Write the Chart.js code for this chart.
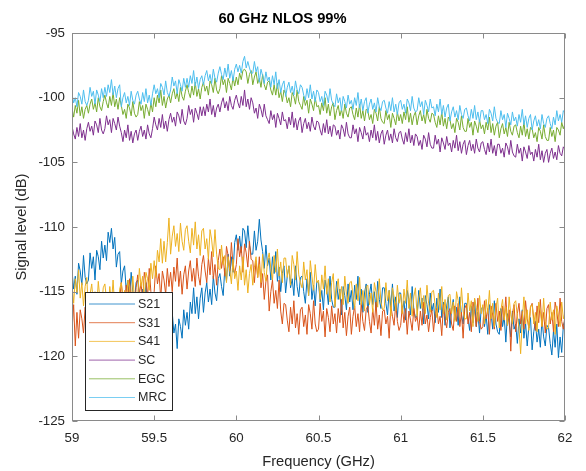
<!DOCTYPE html>
<html>
<head>
<meta charset="utf-8">
<script src="https://cdn.jsdelivr.net/npm/chart.js@4.4.1/dist/chart.umd.min.js"></script>
<style>
html,body{margin:0;padding:0;background:#fff;}
#wrap{position:relative;width:586px;height:471px;}
</style>
</head>
<body>
<div id="wrap"><canvas id="c" width="586" height="471"></canvas></div>
<script>
const chartTitle = "60 GHz NLOS 99%";
const xTitle = "Frequency (GHz)";
const yTitle = "Signal level (dB)";
const seriesNames = ["S21", "S31", "S41", "SC", "EGC", "MRC"];
const xTicks = [59, 59.5, 60, 60.5, 61, 61.5, 62];
const yTicks = [-125, -120, -115, -110, -105, -100, -95];

const freqs = [
59.00,59.01,59.02,59.03,59.04,59.05,59.06,59.07,59.08,59.09,
59.10,59.11,59.12,59.13,59.14,59.15,59.16,59.17,59.18,59.19,
59.20,59.21,59.22,59.23,59.24,59.25,59.26,59.27,59.28,59.29,
59.30,59.31,59.32,59.33,59.34,59.35,59.36,59.37,59.38,59.39,
59.40,59.41,59.42,59.43,59.44,59.45,59.46,59.47,59.48,59.49,
59.50,59.51,59.52,59.53,59.54,59.55,59.56,59.57,59.58,59.59,
59.60,59.61,59.62,59.63,59.64,59.65,59.66,59.67,59.68,59.69,
59.70,59.71,59.72,59.73,59.74,59.75,59.76,59.77,59.78,59.79,
59.80,59.81,59.82,59.83,59.84,59.85,59.86,59.87,59.88,59.89,
59.90,59.91,59.92,59.93,59.94,59.95,59.96,59.97,59.98,59.99,
60.00,60.01,60.02,60.03,60.04,60.05,60.06,60.07,60.08,60.09,
60.10,60.11,60.12,60.13,60.14,60.15,60.16,60.17,60.18,60.19,
60.20,60.21,60.22,60.23,60.24,60.25,60.26,60.27,60.28,60.29,
60.30,60.31,60.32,60.33,60.34,60.35,60.36,60.37,60.38,60.39,
60.40,60.41,60.42,60.43,60.44,60.45,60.46,60.47,60.48,60.49,
60.50,60.51,60.52,60.53,60.54,60.55,60.56,60.57,60.58,60.59,
60.60,60.61,60.62,60.63,60.64,60.65,60.66,60.67,60.68,60.69,
60.70,60.71,60.72,60.73,60.74,60.75,60.76,60.77,60.78,60.79,
60.80,60.81,60.82,60.83,60.84,60.85,60.86,60.87,60.88,60.89,
60.90,60.91,60.92,60.93,60.94,60.95,60.96,60.97,60.98,60.99,
61.00,61.01,61.02,61.03,61.04,61.05,61.06,61.07,61.08,61.09,
61.10,61.11,61.12,61.13,61.14,61.15,61.16,61.17,61.18,61.19,
61.20,61.21,61.22,61.23,61.24,61.25,61.26,61.27,61.28,61.29,
61.30,61.31,61.32,61.33,61.34,61.35,61.36,61.37,61.38,61.39,
61.40,61.41,61.42,61.43,61.44,61.45,61.46,61.47,61.48,61.49,
61.50,61.51,61.52,61.53,61.54,61.55,61.56,61.57,61.58,61.59,
61.60,61.61,61.62,61.63,61.64,61.65,61.66,61.67,61.68,61.69,
61.70,61.71,61.72,61.73,61.74,61.75,61.76,61.77,61.78,61.79,
61.80,61.81,61.82,61.83,61.84,61.85,61.86,61.87,61.88,61.89,
61.90,61.91,61.92,61.93,61.94,61.95,61.96,61.97,61.98,61.99,
62.00];

const s21 = [
-113.4,-114.8,-113.8,-115.2,-112.8,-113.4,-114.5,-112.2,-113.9,-114.4,
-114.1,-112.0,-113.2,-112.3,-114.1,-111.8,-112.3,-113.3,-111.1,-112.4,
-111.4,-112.6,-110.4,-111.2,-110.1,-111.7,-110.8,-113.1,-112.1,-111.9,
-114.4,-113.4,-113.0,-114.9,-114.1,-115.6,-113.5,-115.0,-115.8,-114.3,
-114.1,-115.4,-116.4,-114.8,-116.1,-114.3,-116.6,-115.5,-117.1,-115.3,
-115.4,-117.0,-116.3,-117.9,-115.8,-116.5,-117.8,-115.6,-117.6,-118.3,
-118.4,-116.6,-118.2,-117.5,-119.4,-117.1,-117.7,-118.6,-116.4,-117.6,
-116.6,-117.9,-115.8,-116.7,-114.7,-116.7,-115.4,-117.1,-115.5,-114.7,
-116.6,-115.1,-114.3,-115.8,-114.8,-116.0,-113.8,-115.1,-115.7,-114.0,
-113.6,-114.6,-115.3,-113.2,-114.2,-112.1,-113.8,-112.3,-113.5,-111.2,
-110.6,-111.8,-110.7,-112.0,-110.1,-110.3,-111.6,-109.9,-111.4,-112.1,
-112.1,-110.3,-111.8,-111.1,-109.4,-111.0,-111.9,-113.2,-111.4,-113.0,
-112.4,-114.1,-112.3,-113.6,-111.9,-114.2,-113.1,-115.0,-113.6,-113.0,
-115.1,-113.8,-113.0,-114.7,-114.0,-115.3,-113.0,-114.6,-115.4,-113.9,
-113.8,-115.0,-115.9,-114.0,-115.3,-113.5,-115.6,-114.5,-116.1,-114.2,
-114.3,-115.8,-114.9,-116.4,-114.1,-114.8,-116.0,-113.8,-115.6,-116.2,
-116.2,-114.2,-115.6,-114.8,-116.8,-114.6,-115.3,-116.4,-114.4,-115.8,
-114.9,-116.4,-114.5,-115.6,-113.8,-116.0,-114.8,-116.6,-115.1,-114.4,
-116.6,-115.2,-114.4,-116.0,-115.0,-116.4,-114.2,-115.6,-116.3,-114.7,
-114.7,-115.9,-116.8,-114.9,-116.2,-114.4,-116.5,-115.4,-117.0,-115.1,
-115.1,-116.6,-115.7,-117.2,-114.9,-115.6,-116.8,-114.6,-116.4,-117.0,
-116.9,-114.9,-116.3,-115.5,-117.5,-115.3,-116.0,-117.1,-115.1,-116.5,
-115.9,-117.4,-115.5,-116.6,-114.8,-117.0,-115.8,-117.6,-116.1,-115.4,
-117.8,-116.4,-115.6,-117.2,-116.2,-117.6,-115.4,-116.8,-117.5,-115.9,
-115.9,-117.1,-118.0,-116.1,-117.4,-115.6,-117.7,-116.6,-118.2,-116.3,
-116.2,-117.7,-116.8,-118.3,-116.0,-116.7,-117.9,-115.7,-117.5,-118.1,
-118.3,-116.3,-117.7,-116.9,-118.9,-116.7,-117.4,-118.5,-116.5,-117.9,
-117.5,-119.0,-117.1,-118.2,-116.4,-118.6,-117.4,-119.2,-117.7,-117.0,
-119.5,-118.1,-117.3,-118.9,-117.9,-119.3,-117.1,-118.5,-119.2,-117.6,
-117.8,-119.0,-119.9,-118.0,-119.3,-117.5,-120.1,-118.5,-119.7,-117.6,
-117.2];

const s31 = [
-118.0,-116.0,-119.2,-116.6,-118.6,-116.4,-117.1,-118.2,-116.2,-117.6,
-116.5,-118.0,-116.1,-117.2,-115.4,-117.6,-116.4,-118.2,-116.7,-116.0,
-117.5,-116.1,-115.3,-116.9,-115.9,-117.3,-115.1,-116.5,-117.2,-115.6,
-114.3,-115.5,-116.4,-114.5,-115.8,-114.0,-116.1,-115.0,-116.6,-114.7,
-113.7,-115.2,-114.3,-115.8,-113.5,-114.2,-115.4,-113.2,-115.0,-115.6,
-115.0,-113.0,-114.4,-113.6,-115.6,-113.4,-114.1,-115.2,-113.2,-114.6,
-113.5,-115.0,-113.1,-114.2,-112.4,-114.6,-113.4,-115.2,-113.7,-113.0,
-114.8,-113.4,-112.6,-114.2,-113.2,-114.6,-112.4,-113.8,-114.5,-112.9,
-112.2,-113.4,-114.3,-112.4,-113.7,-111.9,-114.0,-112.9,-114.5,-112.6,
-111.7,-113.2,-112.3,-113.8,-111.5,-112.2,-113.4,-111.2,-113.0,-113.6,
-112.9,-110.9,-112.3,-111.5,-113.5,-111.3,-112.0,-113.1,-111.1,-112.5,
-112.6,-114.3,-112.6,-113.9,-112.3,-114.7,-113.6,-115.6,-114.2,-113.7,
-116.5,-115.0,-114.1,-115.9,-114.9,-116.3,-114.1,-116.5,-117.5,-115.9,
-116.0,-117.2,-118.1,-116.2,-117.5,-115.7,-117.8,-116.7,-118.3,-116.4,
-116.2,-117.7,-116.8,-118.3,-116.0,-116.7,-117.9,-115.7,-117.5,-118.1,
-117.9,-115.9,-117.3,-116.5,-118.5,-116.3,-117.0,-118.1,-116.1,-117.5,
-116.7,-118.2,-116.3,-117.4,-115.6,-117.8,-116.6,-118.4,-116.9,-116.2,
-118.3,-116.9,-116.1,-117.7,-116.7,-118.1,-115.9,-117.3,-118.0,-116.4,
-116.1,-117.3,-118.2,-116.3,-117.6,-115.8,-117.9,-116.8,-118.4,-116.5,
-116.4,-117.5,-116.9,-118.6,-116.1,-116.9,-117.6,-115.9,-117.3,-118.0,
-117.6,-116.1,-117.4,-116.3,-118.3,-116.5,-117.2,-118.0,-116.3,-117.3,
-116.9,-118.0,-116.5,-117.6,-115.8,-117.5,-116.8,-118.1,-117.0,-116.4,
-118.1,-116.7,-116.3,-117.5,-116.9,-118.4,-116.0,-117.1,-117.8,-116.6,
-116.3,-117.5,-118.0,-116.1,-117.3,-115.9,-117.7,-116.6,-118.6,-116.3,
-116.0,-117.5,-116.6,-118.1,-115.8,-116.5,-117.7,-115.5,-117.3,-117.9,
-117.7,-115.7,-117.1,-116.3,-118.3,-116.1,-116.8,-117.9,-115.9,-117.3,
-116.5,-118.0,-116.1,-117.2,-115.4,-117.6,-116.4,-119.6,-116.7,-116.0,
-118.1,-116.7,-115.9,-117.5,-116.5,-117.9,-115.7,-117.1,-117.8,-116.2,
-115.9,-117.1,-118.0,-116.1,-117.4,-115.6,-117.7,-116.6,-118.2,-116.3,
-116.0,-117.5,-116.6,-118.1,-115.8,-116.5,-117.7,-115.5,-117.3,-117.9,
-116.8];

const s41 = [
-114.4,-115.9,-114.0,-115.1,-113.3,-115.5,-114.3,-116.1,-114.6,-113.9,
-116.6,-115.2,-114.4,-116.0,-115.0,-116.4,-114.2,-115.6,-116.3,-114.7,
-114.4,-115.6,-116.5,-114.6,-115.9,-114.1,-116.2,-115.1,-116.7,-114.8,
-114.3,-115.8,-114.9,-116.4,-114.1,-114.8,-116.0,-113.8,-115.6,-116.2,
-115.3,-113.2,-114.6,-113.8,-115.7,-113.5,-114.0,-114.9,-112.8,-114.0,
-112.6,-113.9,-111.8,-112.7,-110.9,-112.8,-111.1,-112.7,-111.2,-109.3,
-112.1,-110.7,-109.9,-111.5,-110.5,-111.9,-109.7,-111.1,-111.8,-110.2,
-109.9,-111.1,-112.0,-110.1,-111.4,-109.6,-111.7,-110.6,-112.2,-110.3,
-110.1,-111.7,-110.9,-112.5,-110.2,-111.0,-112.3,-110.2,-112.1,-113.2,
-113.3,-111.4,-112.9,-112.2,-114.3,-112.3,-113.3,-114.4,-112.5,-114.0,
-113.4,-114.9,-113.0,-114.1,-112.3,-114.5,-113.3,-115.1,-113.6,-112.9,
-114.5,-113.1,-112.3,-113.9,-112.9,-114.3,-112.1,-113.5,-114.2,-112.6,
-112.0,-113.2,-114.1,-112.2,-113.5,-111.7,-113.8,-112.7,-114.3,-112.4,
-112.4,-113.9,-113.0,-114.5,-112.2,-112.9,-114.1,-111.9,-113.7,-114.3,
-114.7,-112.7,-114.1,-113.3,-115.3,-112.6,-113.8,-114.9,-112.9,-114.3,
-114.1,-115.6,-113.7,-114.8,-113.0,-115.2,-114.0,-115.8,-114.3,-113.6,
-116.2,-114.8,-114.0,-115.6,-114.6,-116.0,-113.8,-115.2,-115.9,-114.3,
-114.2,-115.4,-116.3,-114.4,-115.7,-113.9,-116.0,-114.9,-116.5,-114.6,
-114.5,-116.0,-115.1,-116.6,-114.3,-115.0,-116.2,-114.0,-115.8,-116.4,
-116.3,-114.3,-115.7,-114.9,-116.9,-114.7,-115.4,-116.5,-114.5,-115.9,
-115.2,-116.7,-114.8,-115.9,-114.1,-116.3,-115.1,-116.9,-115.4,-114.7,
-116.9,-115.5,-114.7,-116.3,-115.3,-116.7,-114.5,-115.9,-116.6,-115.0,
-114.9,-116.1,-117.0,-115.1,-116.4,-114.6,-116.7,-115.6,-117.2,-115.3,
-115.2,-116.7,-115.8,-117.3,-115.0,-115.7,-116.9,-114.7,-116.5,-117.1,
-117.1,-115.1,-116.5,-115.7,-117.7,-115.5,-116.2,-117.3,-115.3,-116.7,
-116.0,-117.5,-115.6,-116.7,-114.9,-117.1,-115.9,-117.7,-116.2,-115.5,
-117.8,-116.4,-115.6,-117.2,-116.2,-117.6,-115.4,-116.8,-117.5,-115.9,
-115.7,-116.9,-117.8,-119.8,-117.2,-115.4,-117.5,-116.4,-118.0,-116.1,
-116.0,-117.5,-116.6,-118.1,-115.8,-116.5,-117.7,-115.5,-117.3,-117.9,
-117.8,-115.8,-117.2,-116.4,-118.3,-116.1,-116.8,-117.7,-115.8,-117.1,
-116.6];

const sc = [
-102.2,-102.8,-103.2,-102.3,-103.0,-102.0,-103.1,-102.5,-103.3,-102.4,
-101.9,-102.6,-102.2,-102.9,-101.8,-102.1,-102.7,-101.6,-102.5,-102.8,
-102.4,-101.4,-102.1,-101.7,-102.7,-101.6,-102.0,-102.5,-101.5,-102.2,
-102.7,-103.4,-102.5,-103.1,-102.1,-103.3,-102.6,-103.5,-102.8,-102.5,
-103.3,-102.6,-102.2,-103.0,-102.5,-103.2,-102.1,-102.8,-103.1,-102.4,
-101.5,-102.1,-102.5,-101.6,-102.3,-101.3,-102.4,-101.8,-102.6,-101.7,
-101.2,-101.9,-101.5,-102.2,-101.1,-101.4,-102.0,-100.9,-101.8,-102.1,
-101.6,-100.6,-101.3,-100.9,-101.9,-100.8,-101.2,-101.7,-100.7,-101.4,
-100.7,-101.4,-100.5,-101.1,-100.1,-101.3,-100.6,-101.5,-100.8,-100.5,
-101.1,-100.4,-100.0,-100.8,-100.3,-101.0,-99.9,-100.6,-100.9,-100.2,
-99.8,-100.4,-100.8,-99.9,-100.6,-99.4,-100.7,-100.1,-100.9,-100.0,
-100.4,-101.2,-100.8,-101.6,-100.5,-100.9,-101.5,-100.5,-101.4,-101.7,
-102.0,-101.0,-101.7,-101.3,-102.3,-101.2,-101.6,-102.1,-101.1,-101.8,
-101.7,-102.4,-101.5,-102.1,-101.1,-102.3,-101.6,-102.5,-101.8,-101.5,
-102.7,-102.0,-101.6,-102.4,-101.9,-102.6,-101.5,-102.2,-102.5,-101.8,
-101.9,-102.5,-102.9,-102.0,-102.7,-101.7,-102.8,-102.2,-103.0,-102.1,
-102.2,-102.9,-102.5,-103.2,-102.1,-102.4,-103.0,-101.9,-102.8,-103.1,
-103.1,-102.1,-102.8,-102.4,-103.4,-102.3,-102.7,-103.2,-102.2,-102.9,
-102.7,-103.4,-102.5,-103.1,-102.1,-103.3,-102.6,-103.5,-102.8,-102.5,
-103.6,-102.9,-102.5,-103.3,-102.8,-103.5,-102.4,-103.1,-103.4,-102.7,
-102.6,-103.2,-103.6,-102.7,-103.4,-102.4,-103.5,-102.9,-103.7,-102.8,
-103.0,-103.7,-103.3,-104.0,-102.9,-103.2,-103.8,-102.7,-103.6,-103.9,
-103.9,-102.9,-103.6,-103.2,-104.2,-103.1,-103.5,-104.0,-103.0,-103.7,
-103.5,-104.2,-103.3,-103.9,-102.9,-104.1,-103.4,-104.3,-103.6,-103.3,
-104.4,-103.7,-103.3,-104.1,-103.6,-104.3,-103.2,-103.9,-104.2,-103.5,
-103.4,-104.0,-104.4,-103.5,-104.2,-103.2,-104.3,-103.7,-104.5,-103.6,
-103.6,-104.3,-103.9,-104.6,-103.5,-103.8,-104.4,-103.3,-104.2,-104.5,
-104.6,-103.6,-104.3,-103.9,-104.9,-103.8,-104.2,-104.7,-103.7,-104.4,
-104.2,-104.9,-104.0,-104.6,-103.6,-104.8,-104.1,-105.0,-104.3,-104.0,
-105.0,-104.3,-103.9,-104.7,-104.2,-104.8,-103.7,-104.3,-104.5,-103.8,
-104.0];

const egc = [
-100.8,-101.5,-100.6,-101.2,-100.2,-101.4,-100.7,-101.6,-100.9,-100.6,
-101.2,-100.5,-100.1,-100.9,-100.4,-101.1,-100.0,-100.7,-101.0,-100.3,
-99.8,-100.4,-100.8,-99.9,-100.6,-99.6,-100.7,-100.1,-100.9,-100.0,
-100.6,-101.3,-100.9,-101.6,-100.5,-100.8,-101.4,-100.3,-101.2,-101.5,
-101.3,-100.3,-101.0,-100.6,-101.6,-100.5,-100.9,-101.4,-100.4,-101.1,
-100.0,-100.7,-99.8,-100.4,-99.4,-100.6,-99.9,-100.8,-100.1,-99.8,
-100.4,-99.7,-99.3,-100.1,-99.6,-100.3,-99.2,-99.9,-100.2,-99.5,
-99.0,-99.6,-100.0,-99.1,-99.8,-98.8,-99.9,-99.3,-100.1,-99.2,
-98.8,-99.5,-99.1,-99.8,-98.7,-99.0,-99.6,-98.5,-99.4,-99.7,
-99.3,-98.3,-99.0,-98.6,-99.6,-98.5,-98.9,-99.4,-98.4,-99.1,
-98.4,-99.0,-98.1,-98.6,-97.9,-97.8,-98.0,-98.9,-98.2,-97.9,
-99.0,-98.4,-98.0,-98.9,-98.5,-99.2,-98.2,-99.0,-99.4,-98.8,
-98.7,-99.4,-99.8,-99.0,-99.8,-98.9,-100.0,-99.5,-100.3,-99.4,
-99.7,-100.4,-100.0,-100.7,-99.6,-99.9,-100.5,-99.4,-100.3,-100.6,
-100.9,-99.9,-100.6,-100.2,-101.2,-100.1,-100.5,-101.0,-100.0,-100.7,
-100.6,-101.3,-100.4,-101.0,-100.0,-101.2,-100.5,-101.4,-100.7,-100.4,
-101.7,-101.0,-100.6,-101.4,-100.9,-101.6,-100.5,-101.2,-101.5,-100.8,
-100.7,-101.3,-101.7,-100.8,-101.5,-100.5,-101.6,-101.0,-101.8,-100.9,
-101.0,-101.7,-101.3,-102.0,-100.9,-101.2,-101.8,-100.7,-101.6,-101.9,
-102.0,-101.0,-101.7,-101.3,-102.3,-101.2,-101.6,-102.1,-101.1,-101.8,
-101.3,-102.0,-101.1,-101.7,-100.7,-101.9,-101.2,-102.1,-101.4,-101.1,
-102.1,-101.4,-101.0,-101.8,-101.3,-102.0,-100.9,-101.6,-101.9,-101.2,
-101.3,-101.9,-102.3,-101.4,-102.1,-101.1,-102.2,-101.6,-102.4,-101.5,
-101.7,-102.4,-102.0,-102.7,-101.6,-101.9,-102.5,-101.4,-102.3,-102.6,
-102.6,-101.6,-102.3,-101.9,-102.9,-101.8,-102.2,-102.7,-101.7,-102.4,
-102.1,-102.8,-101.9,-102.5,-101.5,-102.7,-102.0,-102.9,-102.2,-101.9,
-103.1,-102.4,-102.0,-102.8,-102.3,-103.0,-101.9,-102.6,-102.9,-102.2,
-102.1,-102.7,-103.1,-102.2,-102.9,-101.9,-103.0,-102.4,-103.2,-102.3,
-102.4,-103.1,-102.7,-103.4,-102.3,-102.6,-103.2,-102.1,-103.0,-103.3,
-103.3,-102.3,-103.0,-102.5,-103.4,-102.3,-102.5,-102.9,-101.9,-102.4,
-102.0];

const mrc = [
-99.7,-100.4,-100.0,-100.7,-99.6,-99.9,-100.5,-99.4,-100.3,-100.6,
-100.2,-99.2,-99.9,-99.5,-100.5,-99.4,-99.8,-100.3,-99.3,-100.0,
-99.2,-99.9,-99.0,-99.6,-98.6,-99.8,-99.1,-100.0,-99.3,-99.0,
-100.7,-100.0,-99.6,-100.4,-99.9,-100.6,-99.5,-100.2,-100.5,-99.8,
-99.5,-100.1,-100.5,-99.6,-100.3,-99.3,-100.4,-99.8,-100.6,-99.7,
-99.0,-99.7,-99.3,-100.0,-98.9,-99.2,-99.8,-98.7,-99.6,-99.9,
-99.4,-98.4,-99.1,-98.7,-99.7,-98.6,-99.0,-99.5,-98.5,-99.2,
-98.5,-99.2,-98.3,-98.9,-97.9,-99.1,-98.4,-99.3,-98.6,-98.3,
-99.0,-98.3,-97.9,-98.7,-98.2,-98.9,-97.8,-98.5,-98.8,-98.1,
-97.6,-98.2,-98.6,-97.7,-98.4,-97.4,-98.5,-97.9,-98.7,-97.8,
-97.4,-98.0,-97.5,-98.1,-97.2,-96.8,-97.7,-97.2,-97.7,-98.1,
-98.1,-97.2,-98.0,-97.6,-98.8,-97.8,-98.3,-98.9,-98.0,-98.7,
-98.4,-99.2,-98.3,-99.0,-98.0,-99.3,-98.6,-99.6,-99.0,-98.7,
-99.9,-99.2,-98.8,-99.6,-99.1,-99.8,-98.7,-99.4,-99.7,-99.0,
-99.2,-99.8,-100.2,-99.3,-100.0,-99.0,-100.1,-99.5,-100.3,-99.4,
-99.6,-100.3,-99.9,-100.6,-99.5,-99.8,-100.4,-99.3,-100.2,-100.5,
-100.7,-99.7,-100.4,-100.0,-101.0,-99.9,-100.3,-100.8,-99.8,-100.5,
-100.2,-100.9,-100.0,-100.6,-99.6,-100.8,-100.1,-101.0,-100.3,-100.0,
-101.2,-100.5,-100.1,-100.9,-100.4,-101.1,-100.0,-100.7,-101.0,-100.3,
-100.2,-100.8,-101.2,-100.3,-101.0,-100.0,-101.1,-100.5,-101.3,-100.4,
-100.2,-100.9,-100.5,-101.2,-100.1,-100.4,-101.0,-99.9,-100.8,-101.1,
-101.0,-100.0,-100.7,-100.3,-101.3,-100.2,-100.6,-101.1,-100.1,-100.8,
-100.7,-101.4,-100.5,-101.1,-100.1,-101.3,-100.6,-101.5,-100.8,-100.5,
-101.8,-101.1,-100.7,-101.5,-101.0,-101.7,-100.6,-101.3,-101.6,-100.9,
-100.8,-101.4,-101.8,-100.9,-101.6,-100.6,-101.7,-101.1,-101.9,-101.0,
-101.0,-101.7,-101.3,-102.0,-100.9,-101.2,-101.8,-100.7,-101.6,-101.9,
-102.0,-101.0,-101.7,-101.3,-102.3,-101.2,-101.6,-102.1,-101.1,-101.8,
-101.5,-102.2,-101.3,-101.9,-100.9,-102.1,-101.4,-102.3,-101.6,-101.3,
-102.5,-101.8,-101.4,-102.2,-101.7,-102.4,-101.3,-102.0,-102.3,-101.6,
-101.4,-102.0,-102.4,-101.5,-102.1,-101.0,-101.8,-101.3,-101.9,-101.0,
-101.2];

const seriesValues = [s21, s31, s41, sc, egc, mrc];
const seriesColors = ["#0072BD", "#D95319", "#EDB120", "#7E2F8E", "#77AC30", "#4DBEEE"];

const FONT = "'Liberation Sans', Arial, Helvetica, sans-serif";
const TXT = "#262626";

const datasets = seriesNames.map((name, k) => ({
  label: name,
  data: freqs.map((f, i) => ({x: f, y: seriesValues[k][i]})),
  borderColor: seriesColors[k],
  backgroundColor: seriesColors[k],
  borderWidth: 1,
  pointRadius: 0,
  fill: false,
  tension: 0,
  order: seriesNames.length - k
}));

const matlabPlugin = {
  id: 'matlabBox',
  afterDatasetsDraw(chart) {
    const ctx = chart.ctx;
    const a = chart.chartArea;
    const xs = chart.scales.x, ys = chart.scales.y;
    ctx.save();
    const L = Math.round(a.left) + 0.5, R = Math.round(a.right) - 0.5;
    const T = Math.round(a.top) + 0.5, B = Math.round(a.bottom) - 0.5;
    ctx.strokeStyle = '#8a8a8a';
    ctx.lineWidth = 1;
    ctx.strokeRect(L, T, R - L, B - T);
    ctx.beginPath();
    xTicks.forEach(v => {
      const px = Math.round(xs.getPixelForValue(v)) + 0.5;
      ctx.moveTo(px, B); ctx.lineTo(px, B - 5);
      ctx.moveTo(px, T); ctx.lineTo(px, T + 5);
    });
    yTicks.forEach(v => {
      const py = Math.round(ys.getPixelForValue(v)) + 0.5;
      ctx.moveTo(L, py); ctx.lineTo(L + 5, py);
      ctx.moveTo(R, py); ctx.lineTo(R - 5, py);
    });
    ctx.stroke();

    // legend box (inside lower-left of the axes)
    const lx = Math.round(a.left) + 13, ly = Math.round(a.bottom) - 129;
    const lw = 87, lh = 118;
    ctx.fillStyle = '#ffffff';
    ctx.fillRect(lx, ly, lw, lh);
    ctx.strokeStyle = '#262626';
    ctx.lineWidth = 1;
    ctx.strokeRect(lx + 0.5, ly + 0.5, lw, lh);
    ctx.font = "12.5px " + FONT;
    ctx.textBaseline = 'middle';
    ctx.textAlign = 'left';
    chart.data.datasets.forEach((ds, i) => {
      const yy = ly + 12 + i * 18.7;
      ctx.strokeStyle = ds.borderColor;
      ctx.globalAlpha = 0.75;
      ctx.beginPath();
      ctx.moveTo(lx + 4, yy); ctx.lineTo(lx + 50, yy);
      ctx.stroke();
      ctx.globalAlpha = 1;
      ctx.fillStyle = TXT;
      ctx.fillText(ds.label, lx + 53, yy + 0.5);
    });
    ctx.restore();
  }
};

new Chart(document.getElementById('c'), {
  type: 'line',
  data: { datasets },
  options: {
    responsive: false,
    animation: false,
    events: [],
    layout: { padding: { left: 0, right: 21, top: 0, bottom: 0 } },
    plugins: {
      legend: { display: false },
      tooltip: { enabled: false },
      title: {
        display: true,
        text: chartTitle,
        color: '#000',
        font: { family: FONT, size: 14.7, weight: 'bold', lineHeight: 1.2 },
        padding: { top: 10, bottom: 5.4 }
      }
    },
    scales: {
      x: {
        type: 'linear',
        min: 59, max: 62,
        afterFit(s) { s.height = 50; },
        afterBuildTicks(s) { s.ticks = xTicks.map(v => ({value: v})); },
        grid: { display: false, drawTicks: false, tickLength: 0 },
        border: { display: false },
        ticks: { color: TXT, font: { family: FONT, size: 13.3 }, padding: 9, maxRotation: 0, autoSkip: false,
                 callback: v => String(v) },
        title: { display: true, text: xTitle, color: TXT, font: { family: FONT, size: 14.7 }, padding: { top: 0, bottom: 0 } }
      },
      y: {
        type: 'linear',
        min: -125, max: -95,
        afterFit(s) { s.width = 72; },
        afterBuildTicks(s) { s.ticks = yTicks.map(v => ({value: v})); },
        grid: { display: false, drawTicks: false, tickLength: 0 },
        border: { display: false },
        ticks: { color: TXT, font: { family: FONT, size: 13.3 }, padding: 7, autoSkip: false,
                 callback: v => String(v) },
        title: { display: true, text: yTitle, color: TXT, font: { family: FONT, size: 14.7 }, padding: { top: 13, bottom: 0 } }
      }
    }
  },
  plugins: [matlabPlugin]
});
</script>
</body>
</html>
